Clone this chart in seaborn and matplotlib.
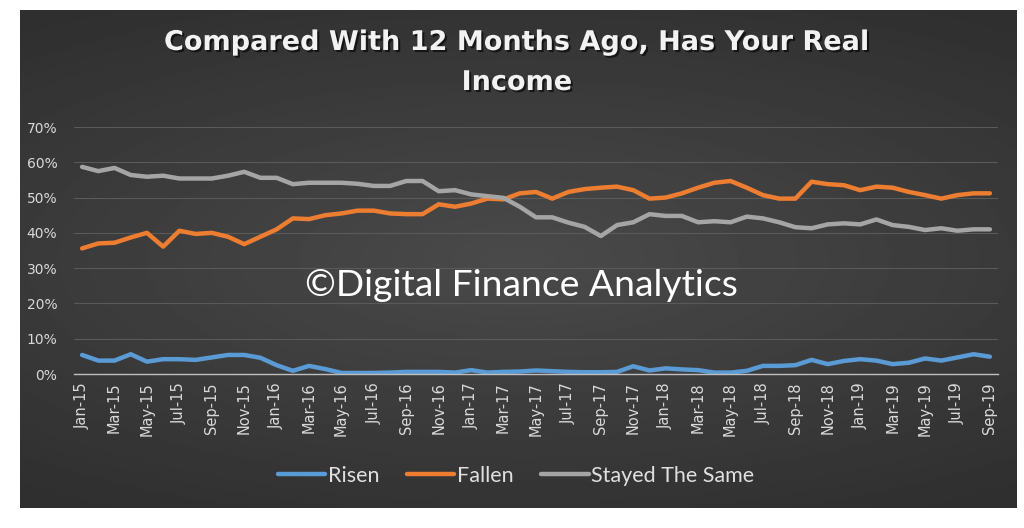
import seaborn as sns
import matplotlib.pyplot as plt
import matplotlib.patheffects as pe
import numpy as np
import pandas as pd

sns.set_theme(style="dark")
plt.rcParams['font.family'] = ['DejaVu Sans']

# monthly survey, Jan-15 .. Sep-19 (values in %)
months = list(pd.date_range('2015-01-01', periods=57, freq='MS').strftime('%b-%y'))

risen = [5.4, 3.8, 3.8, 5.6, 3.5, 4.2, 4.2, 4.0, 4.7, 5.4, 5.4, 4.6, 2.5, 0.9, 2.3, 1.4,
         0.3, 0.3, 0.3, 0.4, 0.6, 0.6, 0.6, 0.4, 1.1, 0.4, 0.6, 0.7, 1.0, 0.8, 0.6, 0.5,
         0.5, 0.6, 2.2, 1.0, 1.6, 1.3, 1.1, 0.4, 0.4, 0.9, 2.3, 2.3, 2.5, 4.0, 2.8, 3.7,
         4.2, 3.8, 2.8, 3.2, 4.4, 3.8, 4.7, 5.6, 4.9]
fallen = [35.6, 37.0, 37.2, 38.7, 40.0, 36.1, 40.6, 39.7, 40.0, 38.9, 36.8, 38.9, 41.0,
          44.1, 43.9, 45.0, 45.5, 46.3, 46.3, 45.5, 45.3, 45.3, 48.1, 47.4, 48.3, 49.7,
          49.5, 51.2, 51.6, 49.7, 51.6, 52.4, 52.8, 53.1, 52.1, 49.7, 50.0, 51.2, 52.8,
          54.2, 54.7, 52.8, 50.7, 49.7, 49.7, 54.5, 53.8, 53.5, 52.1, 53.1, 52.8, 51.6,
          50.7, 49.7, 50.7, 51.2, 51.2]
stayed = [58.7, 57.5, 58.4, 56.4, 55.9, 56.2, 55.4, 55.4, 55.4, 56.2, 57.3, 55.6, 55.6,
          53.8, 54.2, 54.2, 54.2, 53.9, 53.3, 53.3, 54.7, 54.7, 51.8, 52.1, 50.9, 50.4,
          49.9, 47.4, 44.4, 44.4, 42.9, 41.7, 39.1, 42.2, 43.0, 45.3, 44.8, 44.8, 43.0,
          43.3, 43.0, 44.6, 44.1, 43.0, 41.6, 41.3, 42.4, 42.7, 42.4, 43.8, 42.2, 41.7,
          40.8, 41.3, 40.6, 41.0, 41.0]

series_names = ['Risen', 'Fallen', 'Stayed The Same']
colors = ['#5B9BD5', '#ED7D31', '#A5A5A5']

df = pd.DataFrame({'idx': np.arange(len(months)), 'Risen': risen,
                   'Fallen': fallen, 'Stayed The Same': stayed})
long = df.melt(id_vars='idx', var_name='series', value_name='pct')
long['pct'] = long['pct'] / 100

fig = plt.figure(figsize=(10.24, 5.28), dpi=100, facecolor='white')

# dark panel with a soft radial shade
bg = fig.add_axes([20/1024, 20/528, 997/1024, 498/528])
yy, xx = np.mgrid[-1:1:200j, -1:1:400j]
shade = 0.29 - 0.08 * np.clip(np.sqrt((xx*0.8)**2 + (yy*1.1)**2), 0, 1.3)
bg.imshow(shade, cmap='gray', vmin=0, vmax=1, aspect='auto', extent=[0, 1, 0, 1])
bg.set_axis_off()

ax = fig.add_axes([74/1024, 1 - 374/528, 924/1024, 247/528])
ax.set_facecolor('none')
sns.lineplot(data=long, x='idx', y='pct', hue='series', hue_order=series_names,
             palette=colors, linewidth=3.2, ax=ax)

ax.set_xlim(-0.5, len(months) - 0.5)
ax.set_ylim(0, 0.7)
ax.set_yticks(np.arange(0, 0.71, 0.1))
ax.set_yticklabels([f'{int(round(v*100))}%' for v in np.arange(0, 0.71, 0.1)],
                   fontsize=10, color='#d9d9d9')
ax.set_xticks(range(0, len(months), 2))
ax.set_xticklabels(months[::2], rotation=90, fontsize=10.5, color='#d9d9d9')
ax.tick_params(axis='x', length=0, pad=6)
ax.tick_params(axis='y', length=0, pad=12)
ax.grid(axis='y', color='#5a5a5a', linewidth=0.8)
ax.grid(axis='x', visible=False)
for s in ['top', 'right', 'left']:
    ax.spines[s].set_visible(False)
ax.spines['bottom'].set_color('#bfbfbf')
ax.spines['bottom'].set_linewidth(1)
ax.set_xlabel('')
ax.set_ylabel('')

leg = ax.legend(loc='center', bbox_to_anchor=(516/1024, 1 - 476/528),
                bbox_transform=fig.transFigure, ncol=3, frameon=False,
                handlelength=2.2, handletextpad=0.1, columnspacing=1.3,
                prop={'family': 'Lato', 'size': 15.5})
for t in leg.get_texts():
    t.set_color('#e0e0e0')
for h in leg.get_lines():
    h.set_linewidth(3.2)

shadow = [pe.withSimplePatchShadow(offset=(1.5, -1.5), shadow_rgbFace='black', alpha=0.6)]
fig.text(517/1024, 1 - 43/528, 'Compared With 12 Months Ago, Has Your Real',
         ha='center', va='center', fontsize=19.5, fontweight='bold', color='#f2f2f2',
         path_effects=shadow)
fig.text(517/1024, 1 - 83/528, 'Income', ha='center', va='center', fontsize=19.5,
         fontweight='bold', color='#f2f2f2', path_effects=shadow)

fig.text(521/1024, 1 - 285/528, '\u00a9Digital Finance Analytics', ha='center',
         va='center', fontsize=26.8, family='Lato', color='white')

fig.savefig('out.png', dpi=100)
